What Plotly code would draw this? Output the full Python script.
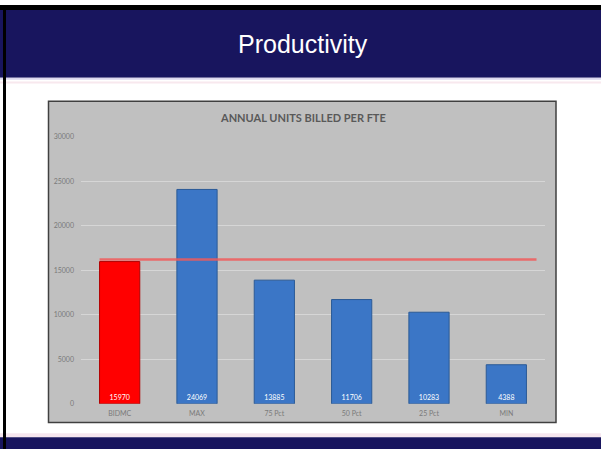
import plotly.graph_objects as go

categories = ["BIDMC", "MAX", "75 Pct", "50 Pct", "25 Pct", "MIN"]
values = [15970, 24069, 13885, 11706, 10283, 4388]
bar_colors = ["#ff0000", "#3b76c6", "#3b76c6", "#3b76c6", "#3b76c6", "#3b76c6"]
line_colors = ["#b00000", "#2b5a96", "#2b5a96", "#2b5a96", "#2b5a96", "#2b5a96"]
benchmark_value = 16200
benchmark_x = [-0.26, 5.39]
y_ticks = [0, 5000, 10000, 15000, 20000, 25000, 30000]
y_tick_labels = ["0", "5000", "10000", "15000", "20000", "25000", "30000"]

W, H = 601, 452
def px(x):
    return x / W
def py(y):
    return 1 - y / H

fig = go.Figure()
fig.add_trace(go.Bar(
    x=list(range(len(categories))), y=values,
    width=0.52,
    marker=dict(color=bar_colors, line=dict(color=line_colors, width=1)),
    text=[str(v) for v in values], textposition="inside", insidetextanchor="start",
    textfont=dict(color="white", size=7, family="Lato"),
    hoverinfo="skip",
))
fig.add_trace(go.Scatter(
    x=benchmark_x, y=[benchmark_value, benchmark_value], mode="lines",
    line=dict(color="rgba(240,90,90,0.85)", width=2.5), hoverinfo="skip",
))

shapes = [
    # header
    dict(type="rect", xref="paper", yref="paper", x0=0, x1=1, y0=py(74), y1=1,
         fillcolor="#18155e", line_width=0, layer="below"),
    dict(type="rect", xref="paper", yref="paper", x0=0, x1=1, y0=py(5), y1=1,
         fillcolor="#000000", line_width=0, layer="below"),
    dict(type="rect", xref="paper", yref="paper", x0=0, x1=1, y0=py(76), y1=py(74),
         fillcolor="#dcd8ee", line_width=0, layer="below"),
    dict(type="rect", xref="paper", yref="paper", x0=0, x1=1, y0=py(80), y1=py(78),
         fillcolor="#f8e8ee", line_width=0, layer="below"),
    # bottom band
    dict(type="rect", xref="paper", yref="paper", x0=0, x1=1, y0=py(440), y1=py(436),
         fillcolor="#f6e6ee", line_width=0, layer="below"),
    dict(type="rect", xref="paper", yref="paper", x0=0, x1=1, y0=0, y1=py(440),
         fillcolor="#18155e", line_width=0, layer="below"),
    # left border
    dict(type="rect", xref="paper", yref="paper", x0=px(3), x1=px(6), y0=0, y1=1,
         fillcolor="#000000", line_width=0, layer="below"),
    # chart box
    dict(type="rect", xref="paper", yref="paper", x0=px(48.5), x1=px(556), y0=py(425), y1=py(98),
         fillcolor="#c0c0c0", line=dict(color="#404040", width=1.5), layer="below"),
]

annotations = [
    dict(text="Productivity", xref="paper", yref="paper", x=px(303), y=py(40),
         showarrow=False, font=dict(color="white", size=25, family="Liberation Sans"),
         xanchor="center", yanchor="middle"),
    dict(text="<b>ANNUAL UNITS BILLED PER FTE</b>", xref="paper", yref="paper", x=px(303), y=py(115),
         showarrow=False, font=dict(color="#595959", size=11, family="Lato"),
         xanchor="center", yanchor="middle"),
]

fig.update_layout(
    width=W, height=H, margin=dict(l=0, r=0, t=0, b=0),
    paper_bgcolor="white", plot_bgcolor="rgba(0,0,0,0)",
    showlegend=False, shapes=shapes, annotations=annotations,
    xaxis=dict(domain=[px(81), px(545)], range=[-0.5, 5.5],
               tickvals=list(range(len(categories))), ticktext=categories,
               showgrid=False, zeroline=False, showline=False, ticks="",
               tickfont=dict(color="#7a7a7a", size=7, family="Lato"), ticklabelstandoff=4),
    yaxis=dict(domain=[py(406), py(134)], range=[0, 30000],
               tickvals=y_ticks, ticktext=y_tick_labels,
               showgrid=True, gridcolor="#d6d6d6", gridwidth=1.2, zeroline=False,
               showline=False, ticks="",
               tickfont=dict(color="#7a7a7a", size=7, family="Lato"), ticklabelstandoff=6),
)

fig.write_html("out.html")
